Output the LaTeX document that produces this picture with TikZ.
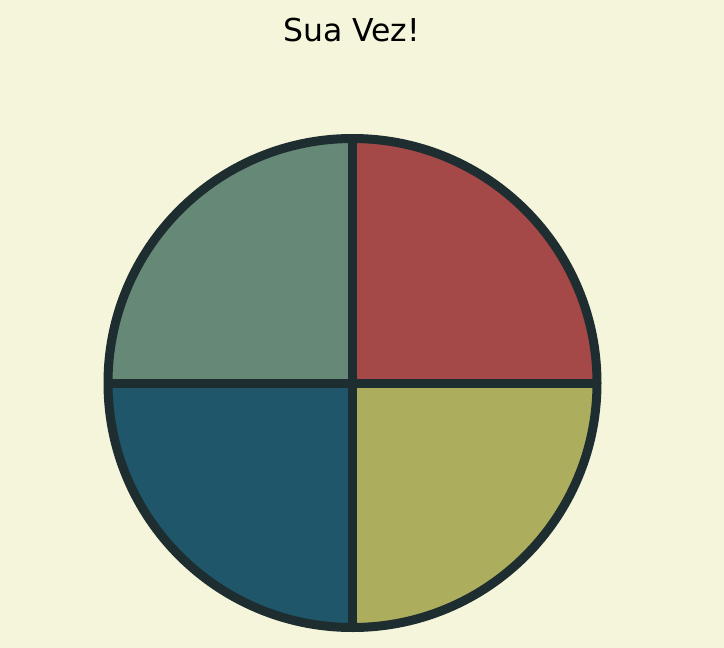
\documentclass[tikz,border=0pt]{standalone}
\usepackage{fontspec}
\setmainfont{DejaVu Sans}
\definecolor{bgbeige}{HTML}{F5F5DC}
\definecolor{rimdark}{HTML}{1E2D2F}
\definecolor{sagegreen}{HTML}{668876}
\definecolor{brickred}{HTML}{A54848}
\definecolor{tealblue}{HTML}{1F566A}
\definecolor{olivey}{HTML}{ADAD5E}
\begin{document}
\begin{tikzpicture}[
  x=1pt,y=-1pt,
  quarter/.style={draw=rimdark,line width=9pt,line join=miter},
  title/.style={font=\fontsize{31.5}{36}\selectfont,text=black}
]
  \fill[bgbeige] (0,0) rectangle (724,648);
  \useasboundingbox (0,0) rectangle (724,648);
  \coordinate (ctr) at (352.5,383);
  \node[title] (head) at (351.5,30) {Sua Vez!};
  % four quarters
  \fill[brickred] (ctr) -- ++(0,-244.5) arc[start angle=-90,end angle=0,radius=244.5] -- cycle;
  \fill[olivey] (ctr) -- ++(244.5,0) arc[start angle=0,end angle=90,radius=244.5] -- cycle;
  \fill[tealblue] (ctr) -- ++(0,244.5) arc[start angle=90,end angle=180,radius=244.5] -- cycle;
  \fill[sagegreen] (ctr) -- ++(-244.5,0) arc[start angle=180,end angle=270,radius=244.5] -- cycle;
  % rim and dividers
  \draw[quarter] (ctr) circle[radius=244.5];
  \draw[quarter,line cap=butt] (352.5,138.5) -- (352.5,627.5);
  \draw[quarter,line cap=butt] (108,383) -- (597,383);
\end{tikzpicture}
\end{document}
